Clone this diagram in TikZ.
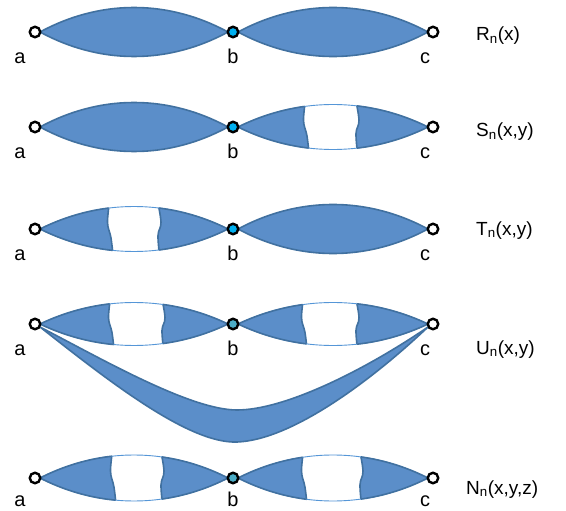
\documentclass[tikz,border=0pt]{standalone}
\usepackage{fontspec}
\setmainfont{Liberation Sans}
\definecolor{lensfill}{RGB}{91,142,201}
\definecolor{lensdark}{RGB}{65,113,160}
\definecolor{lensthin}{RGB}{85,150,215}
\definecolor{bcyan}{RGB}{0,176,240}
\definecolor{bteal}{RGB}{75,172,198}
\tikzset{
  piece/.style={fill=lensfill, draw=lensdark, line width=1.6pt, line join=round},
  thinline/.style={draw=lensthin, line width=0.9pt},
  darkline/.style={draw=lensdark, line width=1.6pt},
  vert/.style={circle, draw=black, line width=2.4pt, fill=white, minimum size=10.5pt, inner sep=0pt},
  vlabel/.style={font=\fontsize{20}{24}\selectfont, anchor=base, inner sep=0pt},
  flabel/.style={font=\fontsize{19}{23}\selectfont, anchor=base west, inner sep=0pt},
}
% lens path: x0 x1 y h
\newcommand\lenspath[4]{(#1,#3) .. controls ({#1+0.32*(#2-#1)},{#3-1.333*#4}) and ({#2-0.32*(#2-#1)},{#3-1.333*#4}) .. (#2,#3) .. controls ({#2-0.32*(#2-#1)},{#3+1.333*#4}) and ({#1+0.32*(#2-#1)},{#3+1.333*#4}) .. (#1,#3) -- cycle}
% left region: x0 y h xc
\newcommand\leftreg[4]{({#1-8},{#2-#3-8}) -- plot[smooth,tension=0.6] coordinates {({#4},{#2-#3-8}) ({#4-2.5},{#2-0.3*#3}) ({#4+1},{#2+0.4*#3}) ({#4+3.5},{#2+#3+8})} -- ({#1-8},{#2+#3+8}) -- cycle}
% right region: x1 y h xc
\newcommand\rightreg[4]{({#1+8},{#2-#3-8}) -- plot[smooth,tension=0.6] coordinates {({#4},{#2-#3-8}) ({#4+4},{#2-0.3*#3}) ({#4+1},{#2+0.3*#3}) ({#4+3},{#2+#3+8})} -- ({#1+8},{#2+#3+8}) -- cycle}
\newcommand\fulllens[4]{\filldraw[piece] \lenspath{#1}{#2}{#3}{#4};}
% split lens: x0 x1 y h cutL cutR
\newcommand\splitlens[6]{%
  \begin{scope}
    \clip \lenspath{#1}{#2}{#3}{#4};
    \filldraw[piece] \leftreg{#1}{#3}{#4}{#5};
    \filldraw[piece] \rightreg{#2}{#3}{#4}{#6};
  \end{scope}
  \draw[thinline] \lenspath{#1}{#2}{#3}{#4};
  \begin{scope}\clip \leftreg{#1}{#3}{#4}{#5}; \draw[darkline] \lenspath{#1}{#2}{#3}{#4};\end{scope}
  \begin{scope}\clip \rightreg{#2}{#3}{#4}{#6}; \draw[darkline] \lenspath{#1}{#2}{#3}{#4};\end{scope}
}
\begin{document}
\begin{tikzpicture}[x=1pt,y=-1pt]
\useasboundingbox[fill=white] (0,0) rectangle (566,511);

% Row 1: R_n(x)
\fulllens{40}{228}{32}{24.5}
\fulllens{238}{428}{32}{24.5}
% Row 2: S_n(x,y)
\fulllens{40}{228}{127}{24.5}
\splitlens{238}{428}{127}{22.5}{306}{355}
% Row 3: T_n(x,y)
\splitlens{40}{228}{229}{22.5}{110}{157}
\fulllens{238}{428}{229}{24.5}
% Row 4: U_n(x,y)
\splitlens{40}{228}{324}{21.5}{111}{161}
\splitlens{238}{428}{324}{21.5}{304}{355}
\filldraw[piece] (40,327) .. controls (105,378) and (188,444) .. (237,442)
  .. controls (292,440) and (372,380) .. (428,327)
  .. controls (365,370) and (285,410) .. (237,410)
  .. controls (190,410) and (100,358) .. (40,327) -- cycle;
% Row 5: N_n(x,y,z)
\splitlens{40}{228}{478}{23}{113}{160}
\splitlens{238}{428}{478}{23}{304}{359}

% vertices
\foreach \r/\y/\bc/\d in {1/32/bcyan/32, 2/127/bcyan/32, 3/229/bcyan/31, 4/324/bteal/31, 5/478/bteal/28}{
  \node[vert] (a\r) at (35,\y) {};
  \node[vert, fill=\bc] (b\r) at (233,\y) {};
  \node[vert] (c\r) at (433,\y) {};
  \node[vlabel] (la\r) at (20,\y+\d) {a};
  \node[vlabel] (lb\r) at (233,\y+\d) {b};
  \node[vlabel] (lc\r) at (425,\y+\d) {c};
}

% function labels
\node[flabel] (fR) at (476,41) {R\textsubscript{n}(x)};
\node[flabel] (fS) at (476,137) {S\textsubscript{n}(x,y)};
\node[flabel] (fT) at (476,235) {T\textsubscript{n}(x,y)};
\node[flabel] (fU) at (476,354) {U\textsubscript{n}(x,y)};
\node[flabel] (fN) at (466,494) {N\textsubscript{n}(x,y,z)};
\end{tikzpicture}
\end{document}
